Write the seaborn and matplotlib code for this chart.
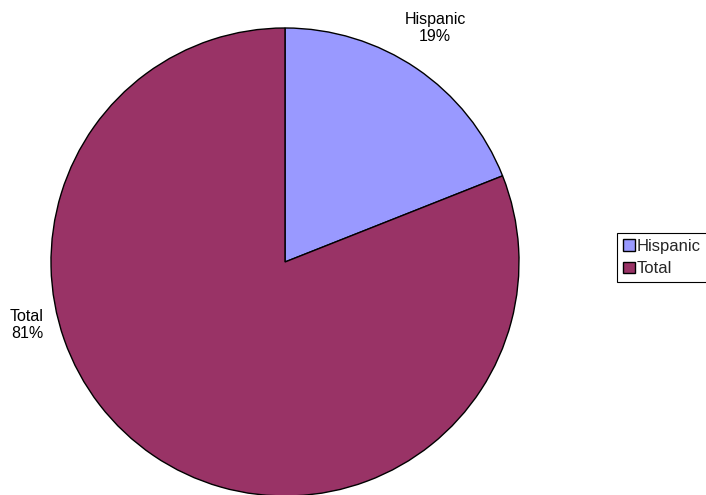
import matplotlib
matplotlib.use("Agg")
import matplotlib.pyplot as plt
import seaborn as sns

categories = ["Hispanic", "Total"]
shares = [19, 81]
colors = ["#9999FF", "#993366"]

sns.set_theme(style="white")
plt.rcParams["font.family"] = ["Liberation Sans", "DejaVu Sans"]

fig = plt.figure(figsize=(7.06, 4.95), dpi=100)
W, H = 706, 495
cx, cy, r = 285, 262, 234
ax = fig.add_axes([(cx - r) / W, (H - cy - r) / H, 2 * r / W, 2 * r / H])

wedges, _ = ax.pie(
    shares, colors=colors, startangle=90, counterclock=False, radius=1,
    wedgeprops=dict(edgecolor="black", linewidth=1.0),
)
ax.set_xlim(-1, 1)
ax.set_ylim(-1, 1)
ax.set_aspect("auto")
ax.axis("off")

# category labels with percentages
label_pos = [((435 - cx) / r, (cy - 28) / r), ((27 - cx) / r, (cy - 325) / r)]
for name, val, (x, y) in zip(categories, shares, label_pos):
    ax.text(x, y, f"{name}\n{val}%", ha="center", va="center", fontsize=11.5,
            color="black", linespacing=1.2, clip_on=False)

leg = fig.legend(
    wedges, categories, loc="upper left",
    bbox_to_anchor=(617 / W, 1 - 233 / H), fontsize=12,
    frameon=True, fancybox=False, edgecolor="black", framealpha=1,
    handlelength=0.7, handleheight=0.7, handletextpad=0.15,
    borderpad=0.35, labelspacing=0.45, borderaxespad=0,
)
leg.get_frame().set_linewidth(0.8)

fig.savefig("out.png", dpi=100)
